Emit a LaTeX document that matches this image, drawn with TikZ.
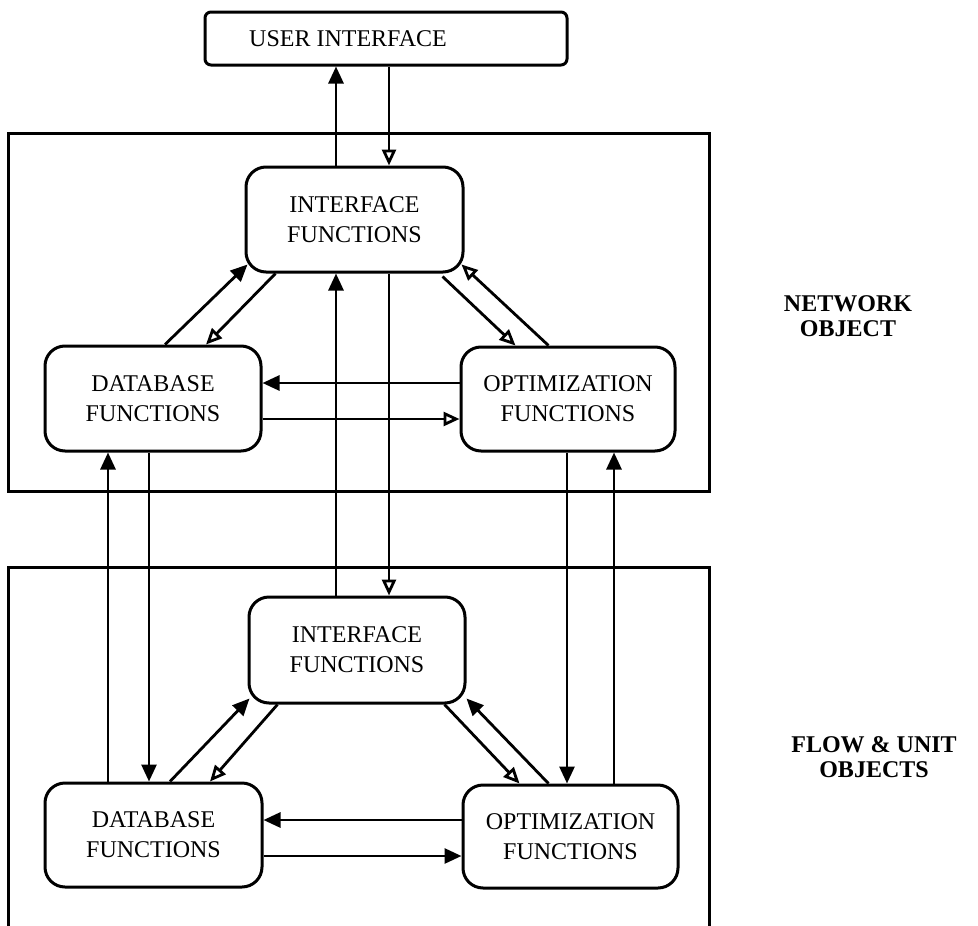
\documentclass[tikz,border=0pt]{standalone}
\usepackage{fontspec}
\setmainfont{Liberation Serif}
\usetikzlibrary{arrows.meta}
\begin{document}
\begin{tikzpicture}[x=1pt, y=-1pt,
  fbox/.style={draw, line width=3pt, rounded corners=20pt, align=center,
    inner sep=0pt, font=\fontsize{24}{30}\selectfont},
  frame/.style={draw, line width=3pt},
  lab/.style={align=center, font=\fontsize{24}{25}\selectfont\bfseries},
  fa/.style={line width=2.8pt, -{Triangle[length=17pt,width=15pt]}},
  ha/.style={line width=2.8pt, -{Triangle[open,length=16pt,width=14pt]}}]
\useasboundingbox (0,0) rectangle (978,926);

% outer frames of the two object layers
\draw[frame] (8,133) rectangle (709,491);
\draw[frame] (8,926) -- (8,567) -- (709,567) -- (709,926);

% user interface
\node[draw, line width=3pt, rounded corners=6pt, minimum width=362pt,
      minimum height=53pt, inner sep=0pt] (ui) at (386,38.5) {};
\node[font=\fontsize{24}{30}\selectfont] (uitxt) at (348,38.5) {USER INTERFACE};

% network object
\node[fbox, minimum width=217pt, minimum height=105pt] (if1) at (354.5,219.5) {INTERFACE\\FUNCTIONS};
\node[fbox, minimum width=216pt, minimum height=105pt] (db1) at (153,398.5) {DATABASE\\FUNCTIONS};
\node[fbox, minimum width=214pt, minimum height=104pt] (opt1) at (568,399) {OPTIMIZATION\\FUNCTIONS};

% flow and unit objects
\node[fbox, minimum width=216pt, minimum height=106pt] (if2) at (357,650) {INTERFACE\\FUNCTIONS};
\node[fbox, minimum width=217pt, minimum height=104pt] (db2) at (153.5,835) {DATABASE\\FUNCTIONS};
\node[fbox, minimum width=215pt, minimum height=103pt] (opt2) at (570.5,836.5) {OPTIMIZATION\\FUNCTIONS};

% side labels
\node[lab] (net) at (848,316) {NETWORK\\OBJECT};
\node[lab] (flow) at (874,757) {FLOW \& UNIT\\OBJECTS};

% columns and rows used by straight connectors
\coordinate (c1) at (108,0);
\coordinate (c2) at (149,0);
\coordinate (c3) at (336,0);
\coordinate (c4) at (389,0);
\coordinate (c5) at (567,0);
\coordinate (c6) at (614,0);
\coordinate (r1) at (0,383);
\coordinate (r2) at (0,419);
\coordinate (r3) at (0,820);
\coordinate (r4) at (0,856);

% user interface <-> network interface
\draw[fa] (if1.north -| c3) -- (ui.south -| c3);
\draw[ha] (ui.south -| c4) -- (if1.north -| c4);

% network object internals
\draw[fa] ([shift={(12,0)}]db1.north) -- ([shift={(3,-9)}]if1.south west);
\draw[ha] ([shift={(31,0)}]if1.south west) -- ([shift={(53,0)}]db1.north);
\draw[ha] ([shift={(-22,3)}]if1.south east) -- ([shift={(56,0)}]opt1.north west);
\draw[ha] ([shift={(89,0)}]opt1.north west) -- ([shift={(-3,-9)}]if1.south east);
\draw[fa] (opt1.west |- r1) -- (db1.east |- r1);
\draw[ha] (db1.east |- r2) -- (opt1.west |- r2);

% links between the layers
\draw[fa] (db2.north -| c1) -- (db1.south -| c1);
\draw[fa] (db1.south -| c2) -- (db2.north -| c2);
\draw[fa] (if2.north -| c3) -- (if1.south -| c3);
\draw[ha] (if1.south -| c4) -- (if2.north -| c4);
\draw[fa] (opt1.south -| c5) -- (opt2.north -| c5);
\draw[fa] (opt2.north -| c6) -- (opt1.south -| c6);

% flow and unit object internals
\draw[fa] ([shift={(16.5,0)}]db2.north) -- ([shift={(2,-6)}]if2.south west);
\draw[ha] ([shift={(30,0)}]if2.south west) -- ([shift={(56.5,0)}]db2.north);
\draw[ha] ([shift={(-22,0)}]if2.south east) -- ([shift={(58,0)}]opt2.north west);
\draw[fa] ([shift={(87,0)}]opt2.north west) -- ([shift={(0,-6)}]if2.south east);
\draw[fa] (opt2.west |- r3) -- (db2.east |- r3);
\draw[fa] (db2.east |- r4) -- (opt2.west |- r4);
\end{tikzpicture}
\end{document}
